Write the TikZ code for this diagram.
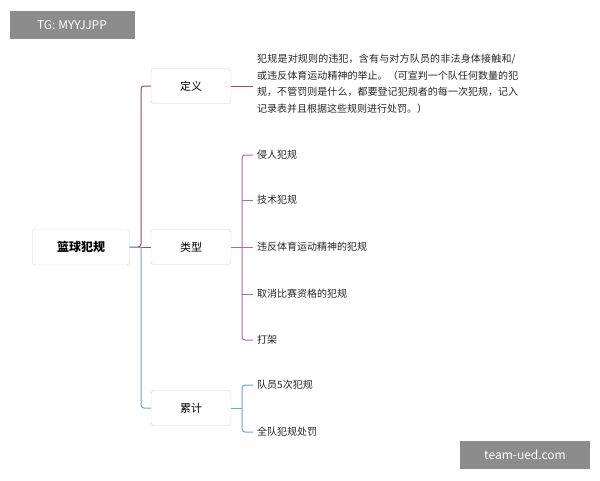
\documentclass[tikz,border=0pt]{standalone}
\usepackage{fontspec}
\setmainfont{Noto Sans CJK SC}
\XeTeXlinebreaklocale "zh"
\XeTeXlinebreakskip = 0pt plus 1pt
\begin{document}
\begin{tikzpicture}[x=1pt,y=-1pt,
  box/.style={draw=black!18,rounded corners=3pt,minimum width=80pt,minimum height=35pt,font=\fontsize{11}{13}\selectfont,fill=white},
  leaf/.style={anchor=west,inner sep=0pt,inner xsep=4pt,font=\fontsize{10}{13}\selectfont,text=black!85},
  redl/.style={draw=red!45!black!70!white,line width=1pt,rounded corners=3pt},
  purl/.style={draw=violet!60!white,line width=1pt,rounded corners=3pt},
  bluel/.style={draw=cyan!60!blue!60!white,line width=1pt,rounded corners=3pt},
  tag/.style={fill=black!45,text=white,font=\fontsize{12}{14}\selectfont,inner sep=0pt,minimum height=28pt}]
\useasboundingbox (0,0) rectangle (600,480);
\fill[white] (0,0) rectangle (600,480);
\node[tag,minimum width=125pt] (tg) at (72,25) {TG: MYYJJPP};
\node[tag,minimum width=130pt] (tu) at (525,455) {team-ued.com};
\node[box,minimum width=97pt,minimum height=36pt,font=\fontsize{12}{14}\selectfont\bfseries] (root) at (81,247) {篮球犯规};
\node[box] (dy) at (191,86) {定义};
\node[box] (lx) at (191,247) {类型};
\node[box] (lj) at (191,408) {累计};
\coordinate (t) at (141,247);
\draw[redl] (root.east) -- (t) |- (dy.west);
\draw[redl] (t) -- (lx.west);
\draw[bluel] (t) |- (lj.west);
\draw[bluel] (root.east) -- (t);
\node[anchor=north west,inner sep=0pt,text width=262pt,align=left,font=\fontsize{10}{16.5}\selectfont,text=black!85] (def) at (257,54) {犯规是对规则的违犯，含有与对方队员的非法身体接触和/或违反体育运动精神的举止。（可宣判一个队任何数量的犯规，不管罚则是什么，都要登记犯规者的每一次犯规，记入记录表并且根据这些规则进行处罚。）};
\draw[redl] (dy.east) -- (253,86);
\node[leaf] (a1) at (253,155) {侵人犯规};
\node[leaf] (a2) at (253,200) {技术犯规};
\node[leaf] (a3) at (253,247) {违反体育运动精神的犯规};
\node[leaf] (a4) at (253,294) {取消比赛资格的犯规};
\node[leaf] (a5) at (253,340) {打架};
\draw[purl] (lx.east) -- (242,247);
\draw[purl] (a1.west) -- ++(-11,0) |- (a5.west);
\foreach \n in {a2,a3,a4} \draw[purl] (242,0 |- \n.west) -- (\n.west);
\node[leaf] (b1) at (253,385) {队员5次犯规};
\node[leaf] (b2) at (253,432) {全队犯规处罚};
\draw[bluel] (lj.east) -- (242,408);
\draw[bluel] (b1.west) -- ++(-11,0) |- (b2.west);
\end{tikzpicture}
\end{document}
